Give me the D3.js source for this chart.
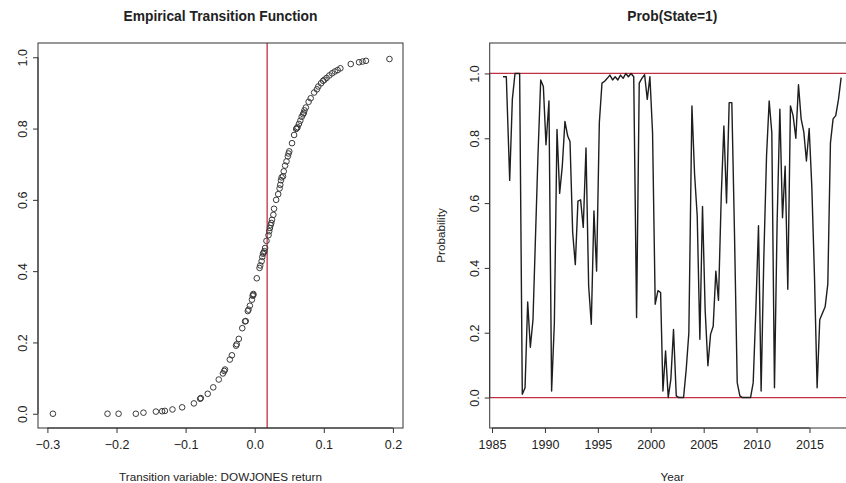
<!DOCTYPE html>
<html>
<head>
<meta charset="utf-8">
<script src="https://cdn.jsdelivr.net/npm/d3@7"></script>
<style>
  body { margin: 0; background: #fff; }
  svg { display: block; font-family: "Liberation Sans", Arial, sans-serif; }
  .tick line, .frame, .axisline { stroke: #333; }
  .tick text { fill: #222; font-size: 12.5px; }
</style>
</head>
<body>
<div id="chart"></div>
<script>
// left panel: transition variable vs. estimated transition probability
const scatterX = [-0.292, -0.213, -0.197, -0.172, -0.161, -0.143, -0.134, -0.130, -0.119, -0.105,
  -0.088, -0.079, -0.078, -0.068, -0.060, -0.052, -0.046, -0.044, -0.043, -0.036,
  -0.033, -0.027, -0.026, -0.023, -0.018, -0.014, -0.013, -0.010, -0.009, -0.007,
  -0.004, -0.003, -0.002, -0.002, 0.003, 0.007, 0.008, 0.010, 0.011, 0.012,
  0.013, 0.014, 0.015, 0.017, 0.020, 0.021, 0.022, 0.023, 0.024, 0.025,
  0.027, 0.028, 0.031, 0.034, 0.036, 0.037, 0.038, 0.039, 0.041, 0.042,
  0.044, 0.046, 0.048, 0.049, 0.050, 0.054, 0.057, 0.060, 0.061, 0.062,
  0.064, 0.066, 0.068, 0.070, 0.071, 0.072, 0.074, 0.078, 0.081, 0.086,
  0.090, 0.092, 0.096, 0.099, 0.101, 0.104, 0.108, 0.112, 0.116, 0.120,
  0.124, 0.139, 0.151, 0.156, 0.161, 0.195];
const scatterP = [0.000, 0.000, 0.000, 0.000, 0.003, 0.006, 0.007, 0.008, 0.012, 0.018,
  0.029, 0.042, 0.044, 0.056, 0.074, 0.096, 0.113, 0.120, 0.124, 0.152,
  0.164, 0.191, 0.195, 0.210, 0.240, 0.259, 0.260, 0.288, 0.292, 0.303,
  0.320, 0.331, 0.336, 0.333, 0.380, 0.409, 0.416, 0.428, 0.440, 0.449,
  0.452, 0.456, 0.465, 0.485, 0.501, 0.512, 0.521, 0.529, 0.535, 0.544,
  0.558, 0.575, 0.600, 0.616, 0.632, 0.642, 0.655, 0.663, 0.666, 0.680,
  0.696, 0.708, 0.722, 0.730, 0.736, 0.759, 0.782, 0.799, 0.801, 0.804,
  0.813, 0.822, 0.833, 0.840, 0.844, 0.851, 0.859, 0.875, 0.885, 0.901,
  0.910, 0.918, 0.927, 0.934, 0.937, 0.942, 0.949, 0.955, 0.960, 0.964,
  0.969, 0.981, 0.986, 0.988, 0.990, 0.995];
const threshold = 0.018;
const xTicksLeft = [-0.3, -0.2, -0.1, 0.0, 0.1, 0.2];
const yTicks = [0, 0.2, 0.4, 0.6, 0.8, 1.0];

// right panel: smoothed probability of state 1
const probYears = [1986.04, 1986.35, 1986.67, 1986.92, 1987.17, 1987.39, 1987.61, 1987.86, 1988.12, 1988.37,
  1988.62, 1988.87, 1989.12, 1989.34, 1989.60, 1989.85, 1990.10, 1990.38, 1990.63, 1990.89,
  1991.14, 1991.39, 1991.64, 1991.89, 1992.15, 1992.37, 1992.62, 1992.87, 1993.12, 1993.37,
  1993.62, 1993.88, 1994.13, 1994.38, 1994.63, 1994.88, 1995.14, 1995.39, 1995.64, 1995.89,
  1996.14, 1996.39, 1996.64, 1996.89, 1997.14, 1997.39, 1997.64, 1997.89, 1998.14, 1998.39,
  1998.66, 1998.91, 1999.16, 1999.42, 1999.67, 1999.92, 2000.17, 2000.42, 2000.68, 2000.93,
  2001.15, 2001.40, 2001.65, 2001.90, 2002.15, 2002.41, 2002.66, 2002.88, 2003.10, 2003.35,
  2003.60, 2003.89, 2004.14, 2004.39, 2004.64, 2004.89, 2005.14, 2005.40, 2005.65, 2005.90,
  2006.15, 2006.40, 2006.66, 2006.91, 2007.16, 2007.41, 2007.66, 2007.91, 2008.17, 2008.42,
  2008.67, 2008.92, 2009.17, 2009.43, 2009.68, 2009.93, 2010.18, 2010.43, 2010.68, 2010.94,
  2011.19, 2011.44, 2011.69, 2011.94, 2012.20, 2012.45, 2012.70, 2012.95, 2013.20, 2013.45,
  2013.71, 2013.96, 2014.21, 2014.46, 2014.71, 2014.97, 2015.22, 2015.47, 2015.72, 2015.97,
  2016.22, 2016.48, 2016.73, 2016.98, 2017.23, 2017.48, 2017.74, 2017.99];
const probValues = [0.990, 0.990, 0.670, 0.920, 1.000, 1.000, 1.000, 0.010, 0.030, 0.295,
  0.155, 0.240, 0.510, 0.745, 0.980, 0.960, 0.780, 0.915, 0.020, 0.230,
  0.827, 0.630, 0.714, 0.852, 0.807, 0.790, 0.510, 0.410, 0.606, 0.610,
  0.525, 0.770, 0.345, 0.226, 0.576, 0.390, 0.848, 0.970, 0.976, 0.985,
  0.995, 0.980, 0.990, 0.980, 0.995, 0.985, 1.000, 0.990, 1.000, 0.990,
  0.247, 0.970, 0.985, 0.996, 0.920, 0.990, 0.817, 0.288, 0.330, 0.324,
  0.020, 0.144, 0.000, 0.057, 0.210, 0.005, 0.000, 0.000, 0.000, 0.087,
  0.200, 0.900, 0.690, 0.560, 0.180, 0.590, 0.270, 0.098, 0.195, 0.220,
  0.390, 0.300, 0.620, 0.838, 0.600, 0.910, 0.910, 0.510, 0.046, 0.005,
  0.000, 0.000, 0.000, 0.000, 0.046, 0.270, 0.530, 0.020, 0.426, 0.745,
  0.915, 0.817, 0.030, 0.540, 0.890, 0.555, 0.714, 0.334, 0.900, 0.870,
  0.800, 0.965, 0.860, 0.820, 0.730, 0.830, 0.650, 0.375, 0.030, 0.240,
  0.260, 0.280, 0.350, 0.786, 0.860, 0.870, 0.920, 0.987];
const xTicksRight = [1985, 1990, 1995, 2000, 2005, 2010, 2015];
const refLevels = [0, 1];

const width = 846, height = 483;
const red = "#c03040";
const svg = d3.select("#chart").append("svg").attr("width", width).attr("height", height);

// R-like axis: ticks + labels from d3, line only between first and last tick
function rAxis(g, axis, scale, ticks, horizontal) {
  g.call(axis.tickValues(ticks).tickSize(5).tickPadding(0));
  g.select(".domain").remove();
  g.append("line").attr("class", "axisline")
    .attr(horizontal ? "x1" : "y1", scale(ticks[0]))
    .attr(horizontal ? "x2" : "y2", scale(ticks[ticks.length - 1]));
}

function yLabelsRotate(g) {
  g.selectAll(".tick text")
    .attr("transform", "rotate(-90)")
    .attr("x", 0).attr("y", -11).attr("dy", 0)
    .attr("text-anchor", "middle");
}

// ---------- left panel ----------
const L = { left: 38, right: 403, top: 43, bottom: 428 };
const xL = d3.scaleLinear().domain([-0.3136, 0.2146]).range([L.left, L.right]);
const yL = d3.scaleLinear().domain([-0.04, 1.04]).range([L.bottom, L.top]);
const left = svg.append("g");

left.append("line")
  .attr("x1", xL(threshold)).attr("x2", xL(threshold))
  .attr("y1", L.top).attr("y2", L.bottom)
  .attr("stroke", red).attr("stroke-width", 1.3);

left.append("g").selectAll("circle")
  .data(scatterX.map((x, i) => [x, scatterP[i]]))
  .join("circle")
  .attr("cx", d => xL(d[0])).attr("cy", d => yL(d[1]))
  .attr("r", 2.8).attr("fill", "none").attr("stroke", "#3a3a3a").attr("stroke-width", 1);

left.append("rect").attr("class", "frame")
  .attr("x", L.left).attr("y", L.top).attr("width", L.right - L.left).attr("height", L.bottom - L.top)
  .attr("fill", "none").attr("stroke-width", 1);

left.append("g").attr("transform", `translate(0,${L.bottom})`)
  .call(g => rAxis(g, d3.axisBottom(xL).tickFormat(d3.format(".1f")), xL, xTicksLeft, true))
  .call(g => g.selectAll(".tick text").attr("y", 21).attr("dy", 0));
left.append("g").attr("transform", `translate(${L.left},0)`)
  .call(g => rAxis(g, d3.axisLeft(yL).tickFormat(d3.format(".1f")), yL, yTicks, false))
  .call(yLabelsRotate);

left.append("text").attr("x", (L.left + L.right) / 2).attr("y", 21)
  .attr("text-anchor", "middle").attr("font-weight", "bold").attr("font-size", 13.8).attr("fill", "#222")
  .text("Empirical Transition Function");
left.append("text").attr("x", (L.left + L.right) / 2).attr("y", 481)
  .attr("text-anchor", "middle").attr("font-size", 11.7).attr("fill", "#222")
  .text("Transition variable: DOWJONES return");

// ---------- right panel ----------
const R = { left: 489.7, right: 855, top: 43, bottom: 428 };
const xR = d3.scaleLinear().domain([1984.78, 2019.3]).range([R.left, R.right]);
const yR = d3.scaleLinear().domain([-0.094, 1.094]).range([R.bottom, R.top]);
const right = svg.append("g");

right.append("g").selectAll("line")
  .data(refLevels)
  .join("line")
  .attr("x1", R.left).attr("x2", R.right)
  .attr("y1", d => yR(d)).attr("y2", d => yR(d))
  .attr("stroke", red).attr("stroke-width", 1.3);

right.append("path")
  .datum(probYears.map((t, i) => [t, probValues[i]]))
  .attr("fill", "none").attr("stroke", "#1e1e1e").attr("stroke-width", 1.4)
  .attr("stroke-linejoin", "round")
  .attr("d", d3.line().x(d => xR(d[0])).y(d => yR(d[1])));

right.append("rect").attr("class", "frame")
  .attr("x", R.left).attr("y", R.top).attr("width", R.right - R.left).attr("height", R.bottom - R.top)
  .attr("fill", "none").attr("stroke-width", 1);

right.append("g").attr("transform", `translate(0,${R.bottom})`)
  .call(g => rAxis(g, d3.axisBottom(xR).tickFormat(d3.format("d")), xR, xTicksRight, true))
  .call(g => g.selectAll(".tick text").attr("y", 21).attr("dy", 0));
right.append("g").attr("transform", `translate(${R.left},0)`)
  .call(g => rAxis(g, d3.axisLeft(yR).tickFormat(d3.format(".1f")), yR, yTicks, false))
  .call(yLabelsRotate);

right.append("text").attr("x", (R.left + R.right) / 2).attr("y", 21)
  .attr("text-anchor", "middle").attr("font-weight", "bold").attr("font-size", 13.8).attr("fill", "#222")
  .text("Prob(State=1)");
right.append("text").attr("x", (R.left + R.right) / 2).attr("y", 481)
  .attr("text-anchor", "middle").attr("font-size", 11.7).attr("fill", "#222")
  .text("Year");
right.append("text")
  .attr("transform", `translate(445,${(R.top + R.bottom) / 2}) rotate(-90)`)
  .attr("text-anchor", "middle").attr("font-size", 11.7).attr("fill", "#222")
  .text("Probability");
</script>
</body>
</html>
